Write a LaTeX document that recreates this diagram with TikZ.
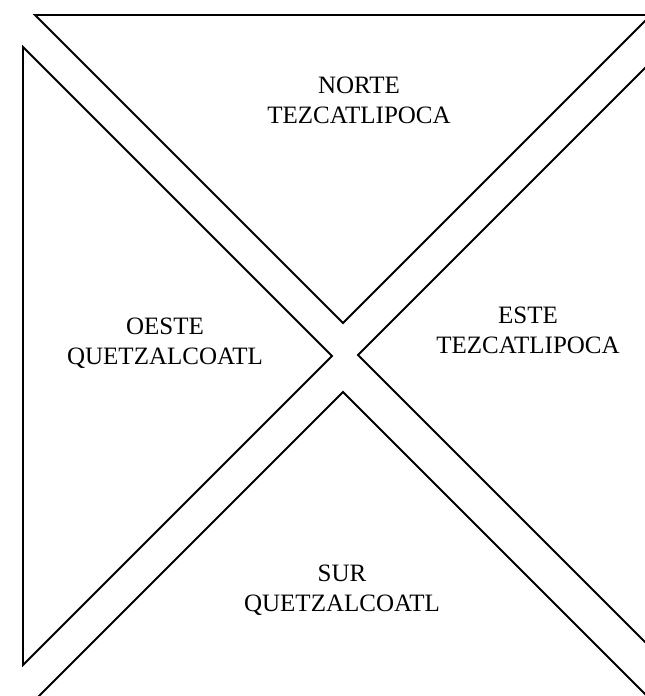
\documentclass[tikz,border=0pt]{standalone}
\usepackage{fontspec}
\setmainfont{Liberation Serif}
\usepackage{tikz}
\usetikzlibrary{positioning}

\begin{document}
\begin{tikzpicture}[
    x=1pt, y=-1pt,
    region/.style={draw, line width=1.9pt, line join=miter},
    cardinal/.style={align=center, font=\fontsize{25}{30}\selectfont, inner sep=0pt}
]
\useasboundingbox (0,0) rectangle (645,696);
\clip (0,0) rectangle (645,696);
% the four triangles
\draw[region] (35,15) -- (651,15) -- (343,323) -- cycle;
\draw[region] (23,47) -- (332,356) -- (23,665) -- cycle;
\draw[region] (670,43) -- (358,355) -- (670,667) -- cycle;
\draw[region] (343,392) -- (15,720) -- (671,720) -- cycle;
% names
\node[cardinal] (norte) at (359,100) {NORTE\\TEZCATLIPOCA};
\node[cardinal] (oeste) at (165,343) {OESTE\\QUETZALCOATL};
\node[cardinal] (este) at (528,330) {ESTE\\TEZCATLIPOCA};
\node[cardinal] (sur) at (342,590) {SUR\\QUETZALCOATL};
\end{tikzpicture}
\end{document}
